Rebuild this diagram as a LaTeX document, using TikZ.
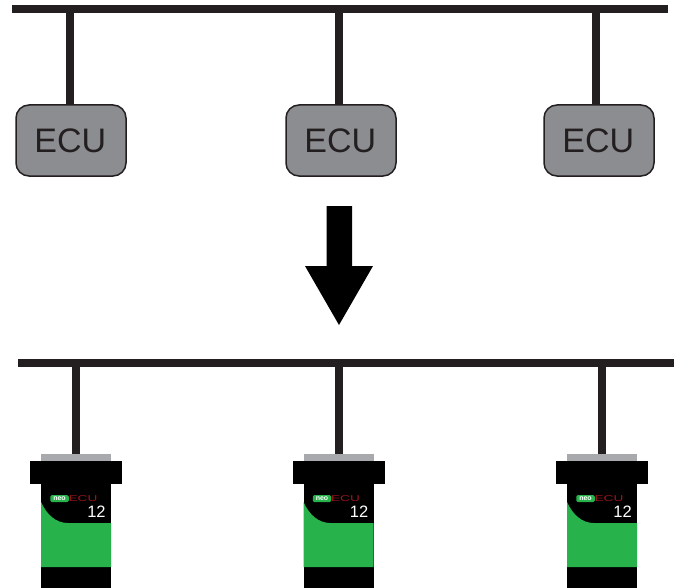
\documentclass[tikz,border=0pt]{standalone}
\usepackage{fontspec}
\setmainfont{Liberation Sans}
\definecolor{wire}{HTML}{231F20}
\definecolor{ecugrey}{HTML}{8C8D91}
\definecolor{capgrey}{HTML}{A7A9AC}
\definecolor{neogreen}{HTML}{27B24B}
\definecolor{ecured}{HTML}{A0141C}
\tikzset{
  wireline/.style={draw=wire,line width=8pt},
  ecubox/.style={draw=wire,line width=1.5pt,fill=ecugrey,rounded corners=13pt,minimum width=110pt,minimum height=71pt,inner sep=0pt,text=wire,font=\fontsize{34}{36}\selectfont},
  block/.style={fill=#1,inner sep=0pt,outer sep=0pt},
  devlabel/.style={inner sep=0pt,outer sep=0pt},
  pics/device/.style={code={
    \node[block=capgrey,minimum width=70pt,minimum height=7pt] (#1top) at (0,457.5) {};
    \node[block=black,minimum width=92pt,minimum height=23pt] (#1cap) at (0,472.5) {};
    \fill[black] (-35,484) rectangle (35,588);
    \fill[neogreen] (-35,502) .. controls (-29,515) and (-20,523) .. (-8,523) -- (35,523) -- (35,567) -- (-35,567) -- cycle;
    \node[block=neogreen,rounded corners=1.5pt,minimum width=18.5pt,minimum height=7pt,text=white,font=\bfseries\fontsize{7}{7}\selectfont] (#1neo) at (-16.5,498.7) {neo};
    \node[devlabel,text=ecured,font=\fontsize{8.5}{8.5}\selectfont] (#1ecu) at (7,498.7) {\scalebox{1.6}[1]{ECU}};
    \node[devlabel,text=white,font=\fontsize{16.5}{16.5}\selectfont] (#1num) at (20.5,512) {12};
  }}
}
\begin{document}
\begin{tikzpicture}[x=1pt,y=-1pt]
\useasboundingbox (0,0) rectangle (679,588);
% upper bus
\coordinate (busAl) at (12,9.5);
\coordinate (busAr) at (668,9.5);
\coordinate (a1) at (70,9.5);
\coordinate (a2) at (339,9.5);
\coordinate (a3) at (596,9.5);
\draw[wireline] (a1) -- (70,106);
\draw[wireline] (a2) -- (339,106);
\draw[wireline] (a3) -- (596,106);
\draw[wireline] (busAl) -- (busAr);
\node[ecubox] (e1) at (71,140.5) {\hspace*{-1.5pt}ECU};
\node[ecubox] (e2) at (341,140.5) {\hspace*{-1.5pt}ECU};
\node[ecubox] (e3) at (599,140.5) {\hspace*{-1.5pt}ECU};
% big arrow
\fill[black] (326.5,206) -- (352,206) -- (352,266) -- (373,266) -- (339,325) -- (305,266) -- (326.5,266) -- cycle;
% devices
\begin{scope}[shift={(76,0)}]\pic {device=d1};\end{scope}
\begin{scope}[shift={(338.5,0)}]\pic {device=d2};\end{scope}
\begin{scope}[shift={(602,0)}]\pic {device=d3};\end{scope}
% lower bus
\coordinate (busBl) at (18,362.5);
\coordinate (busBr) at (674,362.5);
\coordinate (b1) at (75.5,362.5);
\coordinate (b2) at (339,362.5);
\coordinate (b3) at (602,362.5);
\draw[wireline] (b1) -- (d1top.north -| b1);
\draw[wireline] (b2) -- (d2top.north -| b2);
\draw[wireline] (b3) -- (d3top.north -| b3);
\draw[wireline] (busBl) -- (busBr);
\end{tikzpicture}
\end{document}
